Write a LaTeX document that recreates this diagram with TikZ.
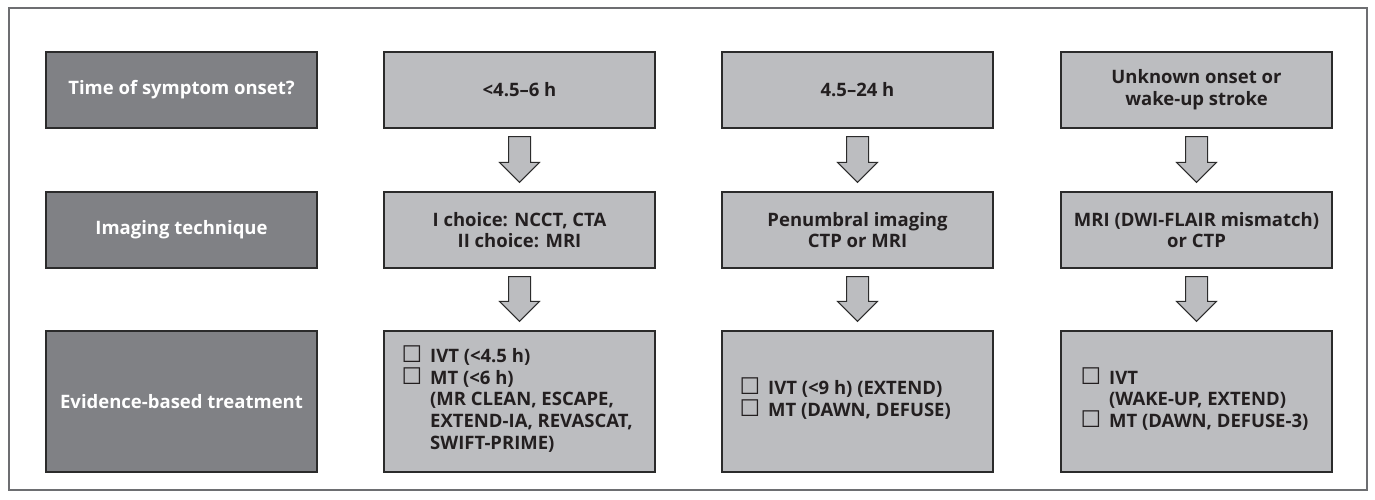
\documentclass[tikz,border=0pt]{standalone}
\usepackage{fontspec}
\setmainfont{Open Sans}[BoldFont={Open Sans Bold}]
\newfontfamily\symfont{DejaVu Sans}
\usetikzlibrary{calc}
\definecolor{darkfill}{HTML}{808185}
\definecolor{lightfill}{HTML}{BCBDC0}
\definecolor{edge}{HTML}{2B2B2B}
\definecolor{framecol}{HTML}{6D6E71}
\definecolor{txt}{HTML}{231F20}
\newcommand{\cb}{\smash{\symfont\fontsize{23}{23}\selectfont ☐}}
\tikzset{
  base/.style={draw=edge, line width=1.3pt, minimum width=271pt, align=center,
    font=\fontsize{18.5}{21.7}\selectfont\bfseries, inner sep=0pt},
  darkbox/.style={base, fill=darkfill, text=white, minimum height=76pt},
  lightbox/.style={base, fill=lightfill, text=txt, minimum height=76pt},
  treatbox/.style={base, fill=lightfill, text=txt, minimum height=141pt},
  tlist/.style={text=txt, font=\fontsize{18.5}{21.7}\selectfont\bfseries, inner sep=0pt, anchor=west, align=left},
  arr/.style={draw=edge, fill=lightfill, line width=1pt, line join=miter}
}
\newcommand{\flowarrow}[2]{%
  \draw[arr] ($(#1.south)+(-11,8)$) -- ($(#2.north)+(-11,-29)$) -- ($(#2.north)+(-20,-29)$)
    -- ($(#2.north)+(0,-9)$) -- ($(#2.north)+(20,-29)$) -- ($(#2.north)+(11,-29)$)
    -- ($(#1.south)+(11,8)$) -- cycle;}
\begin{document}
\begin{tikzpicture}[x=1pt,y=-1pt]
\useasboundingbox (0,0) rectangle (1375,499);
\fill[white] (0,0) rectangle (1375,499);
\draw[framecol, line width=1.5pt] (9,8) rectangle (1367,490);

% row 1
\node[darkbox] (q1) at (181.5,90) {Time of symptom onset?};
\node[lightbox] (a1) at (519.5,90) {<4.5–6 h};
\node[lightbox] (b1) at (857.5,90) {4.5–24 h};
\node[lightbox] (c1) at (1196.5,90) {Unknown onset or\\wake-up stroke};
% row 2
\node[darkbox] (q2) at (181.5,230) {Imaging technique};
\node[lightbox] (a2) at (519.5,230) {I choice: NCCT, CTA\\II choice: MRI};
\node[lightbox] (b2) at (857.5,230) {Penumbral imaging\\CTP or MRI};
\node[lightbox] (c2) at (1196.5,230) {MRI (DWI-FLAIR mismatch)\\or CTP};
% row 3
\node[darkbox, minimum height=141pt] (q3) at (181.5,401.5) {Evidence-based treatment};
\node[treatbox] (a3) at (519.5,401.5) {};
\node[treatbox] (b3) at (857.5,401.5) {};
\node[treatbox] (c3) at (1196.5,401.5) {};

\node[tlist] (a3t) at ($(a3.west)+(18,0)$) {%
  \begin{tabular}{@{}l@{\hspace{8pt}}l@{}}
  \cb & IVT (<4.5 h)\\
  \cb & MT (<6 h)\\
      & (MR CLEAN, ESCAPE,\\
      & EXTEND-IA, REVASCAT,\\
      & SWIFT-PRIME)
  \end{tabular}};
\node[tlist] (b3t) at ($(b3.west)+(18,0)$) {%
  \begin{tabular}{@{}l@{\hspace{8pt}}l@{}}
  \cb & IVT (<9 h) (EXTEND)\\
  \cb & MT (DAWN, DEFUSE)
  \end{tabular}};
\node[tlist] (c3t) at ($(c3.west)+(20,0)$) {%
  \begin{tabular}{@{}l@{\hspace{8pt}}l@{}}
  \cb & IVT\\
      & (WAKE-UP, EXTEND)\\
  \cb & MT (DAWN, DEFUSE-3)
  \end{tabular}};

% arrows
\flowarrow{a1}{a2}
\flowarrow{b1}{b2}
\flowarrow{c1}{c2}
\flowarrow{a2}{a3}
\flowarrow{b2}{b3}
\flowarrow{c2}{c3}
\end{tikzpicture}
\end{document}
